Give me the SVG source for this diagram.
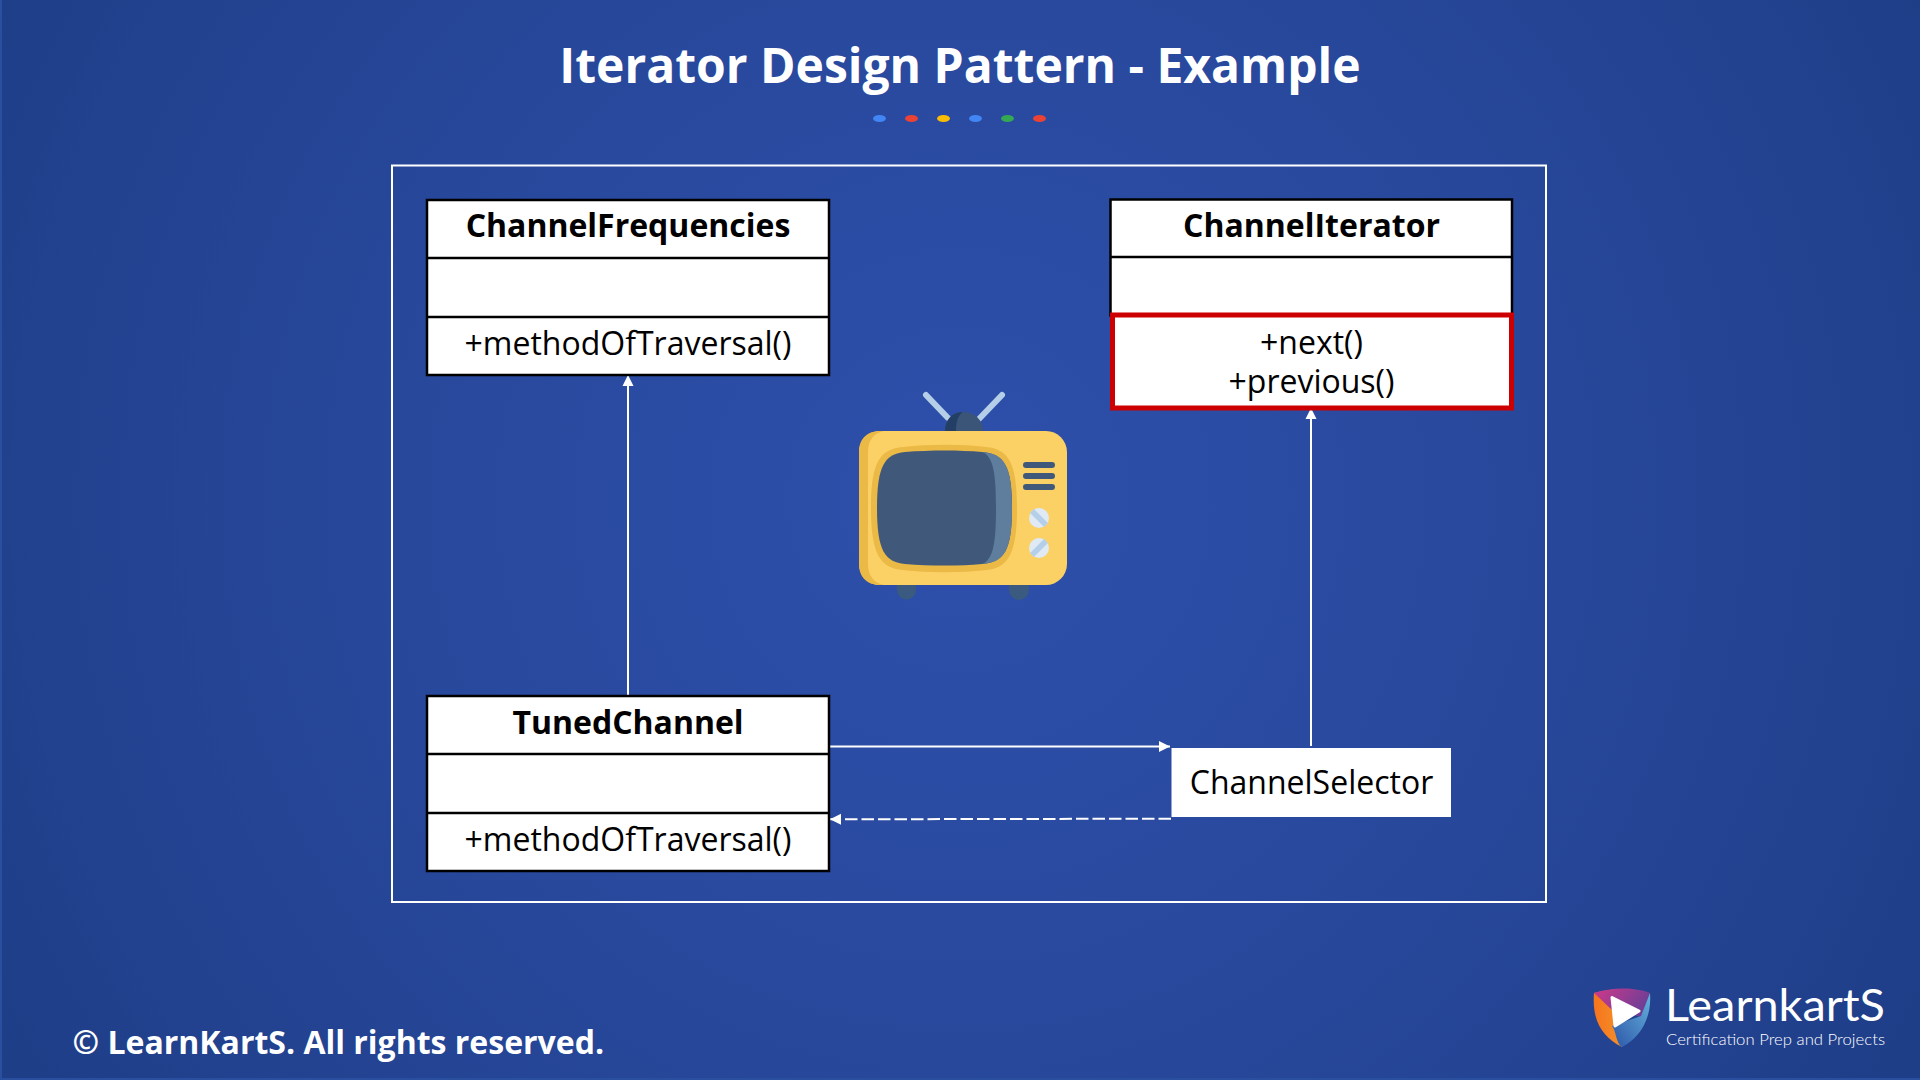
<svg xmlns="http://www.w3.org/2000/svg" width="1920" height="1080" viewBox="0 0 1920 1080">
<style>
text{font-family:"Open Sans","Noto Sans","Liberation Sans",sans-serif}
.box{fill:#fff;stroke:#000;stroke-width:2.5}
.div{stroke:#000;stroke-width:2.5}
.title{font-size:32px;font-weight:700;fill:#000;text-anchor:middle}
.m{font-size:32px;fill:#000;text-anchor:middle}
.c{stroke:#fff;stroke-width:2;fill:none}
</style>
<defs>
<radialGradient id="bg" gradientUnits="userSpaceOnUse" cx="960" cy="500" r="1100">
<stop offset="0" stop-color="#2e50ab"/><stop offset="0.45" stop-color="#29499e"/><stop offset="1" stop-color="#1f3e88"/>
</radialGradient>
<linearGradient id="sh1" x1="0" y1="0" x2="1" y2="0"><stop offset="0" stop-color="#f7741c"/><stop offset="1" stop-color="#f2902a"/></linearGradient>
<linearGradient id="sh2" x1="0" y1="0" x2="1" y2="0.4"><stop offset="0" stop-color="#d0388a"/><stop offset="1" stop-color="#6d3f96"/></linearGradient>
<linearGradient id="sh3" x1="0" y1="1" x2="1" y2="0"><stop offset="0" stop-color="#2c55a8"/><stop offset="1" stop-color="#65b2dc"/></linearGradient>
<marker id="ah" markerUnits="userSpaceOnUse" markerWidth="12" markerHeight="12" refX="11" refY="6" orient="auto"><path d="M0,0.5 L11,6 L0,11.5 Z" fill="#fff"/></marker>
</defs>
<rect width="1920" height="1080" fill="url(#bg)"/>
<path d="M1 0V1079H1920" fill="none" stroke="#2a4f9f" stroke-width="2"/>
<text x="960" y="83" font-size="48" font-weight="700" fill="#fff" text-anchor="middle">Iterator Design Pattern - Example</text>
<g id="dots">
<ellipse cx="879.500" cy="118.500" rx="6.500" ry="3.500" fill="#4285f4"/>
<ellipse cx="911.500" cy="118.500" rx="6.500" ry="3.500" fill="#ea4335"/>
<ellipse cx="943.500" cy="118.500" rx="6.500" ry="3.500" fill="#fbbc05"/>
<ellipse cx="975.500" cy="118.500" rx="6.500" ry="3.500" fill="#4285f4"/>
<ellipse cx="1007.500" cy="118.500" rx="6.500" ry="3.500" fill="#34a853"/>
<ellipse cx="1039.500" cy="118.500" rx="6.500" ry="3.500" fill="#ea4335"/>
</g>
<rect id="frame" x="392" y="165.500" width="1154" height="736.500" fill="none" stroke="#fff" stroke-width="2"/>
<g id="connectors">
<path class="c" d="M628 696V375" marker-end="url(#ah)"/>
<path class="c" d="M1311 746V408" marker-end="url(#ah)"/>
<path class="c" d="M829 746.500H1170" marker-end="url(#ah)"/>
<path class="c" d="M1171 818.700L830 819.300" stroke-dasharray="12.500 4" marker-end="url(#ah)"/>
</g>
<g id="ChannelFrequencies">
<rect class="box" x="427" y="200" width="402" height="175"/>
<path class="div" d="M427 258H829M427 317H829"/>
<text class="title" x="628" y="237">ChannelFrequencies</text>
<text class="m" x="628" y="354.500">+methodOfTraversal()</text>
</g>
<g id="ChannelIterator">
<rect class="box" x="1110.500" y="199.500" width="401.500" height="116"/>
<path class="div" d="M1110.500 257H1512"/>
<rect x="1112.500" y="315" width="399" height="93" fill="#fff" stroke="#cc0000" stroke-width="5"/>
<text class="title" x="1311.500" y="236.500">ChannelIterator</text>
<text class="m" x="1311.500" y="353.500">+next()</text>
<text class="m" x="1311.500" y="392.500">+previous()</text>
</g>
<g id="TunedChannel">
<rect class="box" x="427" y="696" width="402" height="175"/>
<path class="div" d="M427 754H829M427 813H829"/>
<text class="title" x="628" y="733.500">TunedChannel</text>
<text class="m" x="628" y="850.500">+methodOfTraversal()</text>
</g>
<g id="ChannelSelector">
<rect x="1171.500" y="748" width="279.500" height="69" fill="#fff"/>
<text class="m" x="1311.500" y="793.500">ChannelSelector</text>
</g>
<g id="tv">
<path d="M897 583h19v7a9.500 9.500 0 0 1-19 0zM1009 583h20v7a10 10 0 0 1-20 0z" fill="#3a5a80"/>
<path d="M926 395L948 418M1002 395L979 419" stroke="#b5cfe8" stroke-width="6" stroke-linecap="round" fill="none"/>
<path d="M945 431C945 420 952 412 963 412C975 412 983 420 983 431Z" fill="#3b5578"/>
<path d="M945 431C945 420 952 412 963 412C958 415 956 422 956 431Z" fill="#243f66"/>
<rect x="859" y="431" width="208" height="154" rx="21" fill="#fbd065"/>
<path d="M880 431C866 431 859 440 859 452V564C859 576 866 585 880 585H884C874 583 868 576 868 564V452C868 440 874 433 884 431Z" fill="#ebb945"/>
<path d="M871 508C871 462 880 449 903 447C930 444 960 444 986 447C1008 449 1017 462 1017 508C1017 554 1008 568 986 570C960 573 930 573 903 570C880 568 871 554 871 508Z" fill="#ebb945"/>
<path d="M877 508C877 465 885 454 905 452C930 450 960 450 982 452C1004 454 1012 465 1012 508C1012 551 1004 562 982 564C960 566 930 566 905 564C885 562 877 551 877 508Z" fill="#40597a"/>
<path d="M983 452C1004 454 1012 465 1012 508C1012 551 1004 562 983 564C993 558 996 545 996 508C996 471 993 458 983 452Z" fill="#5f7d9c"/>
<path d="M1026 465H1052M1026 476H1052M1026 487H1052" stroke="#40597a" stroke-width="6" stroke-linecap="round" fill="none"/>
<circle cx="1039" cy="518" r="10" fill="#dfeaf5"/>
<circle cx="1039" cy="548" r="10" fill="#dfeaf5"/>
<path d="M1032 511L1046 525M1046 541L1032 555" stroke="#b5cfe8" stroke-width="5.500" fill="none"/>
</g>
<text id="copyright" x="72.500" y="1054" font-size="32" font-weight="700" fill="#fff">© LearnKartS. All rights reserved.</text>
<g id="logo">
<path d="M1594 993C1606 990 1614 989 1622 989L1622 1047C1600 1036 1592 1018 1594 993Z" fill="url(#sh1)"/>
<path d="M1594 993C1612 987 1636 987 1650 993C1650 1002 1646 1012 1641 1017L1612 1010Z" fill="url(#sh2)"/>
<path d="M1650 993C1652 1018 1640 1038 1622 1047C1616 1044 1616 1030 1612 1026L1641 1016Z" fill="url(#sh3)"/>
<path d="M1612 997.500L1639 1011L1615 1026Z" fill="#fff" stroke="#fff" stroke-width="3" stroke-linejoin="round"/>
<text x="1665" y="1021" font-size="44" font-weight="400" fill="#fff" style="font-family:Lato,sans-serif" textLength="220" lengthAdjust="spacingAndGlyphs">LearnkartS</text>
<text x="1666" y="1045" font-size="16.500" font-weight="300" fill="#fff" style="font-family:Lato,sans-serif" textLength="219" lengthAdjust="spacingAndGlyphs">Certification Prep and Projects</text>
</g>
</svg>
